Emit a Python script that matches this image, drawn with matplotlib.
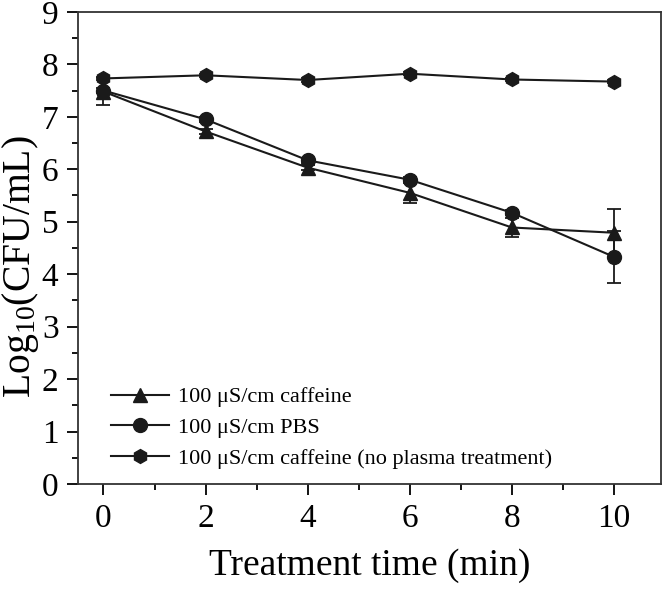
import matplotlib
matplotlib.use('Agg')
import matplotlib.pyplot as plt
from matplotlib.ticker import MultipleLocator
from matplotlib.lines import Line2D

plt.rcParams['font.family'] = 'Liberation Serif'
plt.rcParams['mathtext.fontset'] = 'custom'
plt.rcParams['mathtext.rm'] = 'Liberation Serif'
plt.rcParams['mathtext.it'] = 'Liberation Serif'

time = [0, 2, 4, 6, 8, 10]
caffeine = [7.48, 6.72, 6.03, 5.55, 4.89, 4.79]
caffeine_err = [0.26, 0.05, 0.05, 0.19, 0.18, 0.46]
pbs = [7.50, 6.95, 6.17, 5.80, 5.17, 4.33]
pbs_err = [0.05, 0.05, 0.05, 0.05, 0.05, 0.50]
noplasma = [7.73, 7.79, 7.70, 7.82, 7.71, 7.67]
noplasma_err = [0.03, 0.03, 0.03, 0.03, 0.03, 0.03]

labels = ['100 \u03bcS/cm caffeine', '100 \u03bcS/cm PBS',
          '100 \u03bcS/cm caffeine (no plasma treatment)']

fig = plt.figure(figsize=(6.66, 5.89), dpi=100)
ax = fig.add_axes([0.117, 0.178, 0.8755, 0.802])

c = '#1a1a1a'
kw = dict(color=c, lw=1.5, capsize=5, elinewidth=1.3, capthick=1.3, ms=10)
ax.errorbar(time, caffeine, yerr=caffeine_err, marker='^', **kw)
ax.errorbar(time, pbs, yerr=pbs_err, marker='o', **kw)
ax.errorbar(time, noplasma, yerr=noplasma_err, marker='h', **kw)

handles = [Line2D([], [], color=c, lw=1.5, marker=m, ms=10) for m in ['^', 'o', 'h']]

ax.set_xlim(-0.5, 10.92)
ax.set_ylim(0, 9)
ax.xaxis.set_major_locator(MultipleLocator(2))
ax.xaxis.set_minor_locator(MultipleLocator(1))
ax.yaxis.set_major_locator(MultipleLocator(1))
ax.yaxis.set_minor_locator(MultipleLocator(0.5))
ax.tick_params(which='major', direction='out', length=8, width=1.3, labelsize=24, pad=6)
ax.tick_params(which='minor', direction='out', length=4.5, width=1.3)
for s in ax.spines.values():
    s.set_linewidth(1.3)
    s.set_color('#333333')

ax.set_xlabel('Treatment time (min)', fontsize=27, labelpad=10)
ax.set_ylabel(r'Log$_{10}$(CFU/mL)', fontsize=28.5)
ax.yaxis.set_label_coords(-0.064, 0.46)

ax.legend(handles, labels, loc='lower left', frameon=False, fontsize=16,
          handlelength=2.6, borderaxespad=0.3, labelspacing=0.45, handletextpad=0.4,
          bbox_to_anchor=(0.03, 0.0))

plt.savefig('out.png', dpi=100)
